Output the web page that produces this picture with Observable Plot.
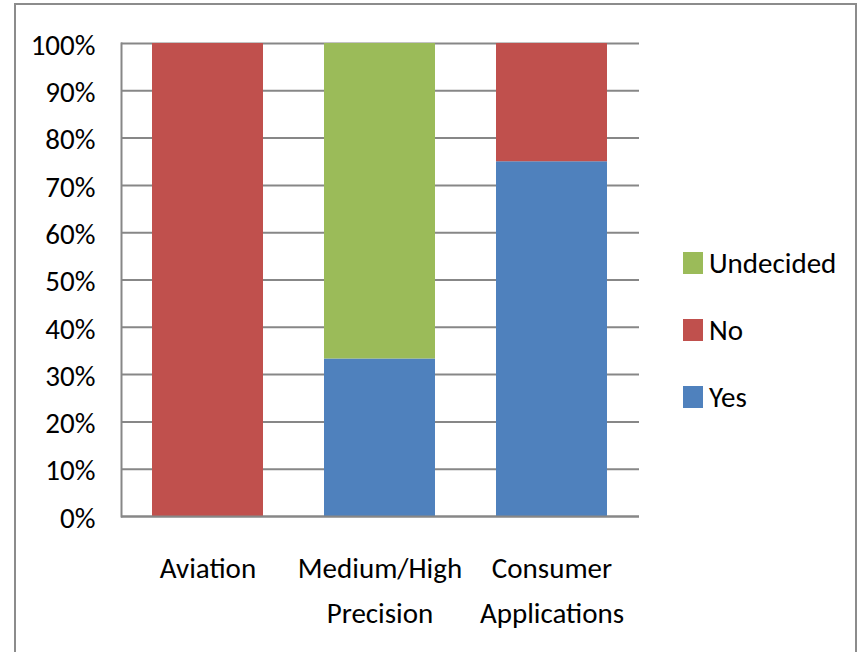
<!DOCTYPE html>
<html>
<head>
<meta charset="utf-8">
<script src="https://cdn.jsdelivr.net/npm/d3@7"></script>
<script src="https://cdn.jsdelivr.net/npm/@observablehq/plot@0.6"></script>
<style>
  html, body { margin: 0; padding: 0; background: #fff; }
  #wrap { position: relative; width: 862px; height: 652px; overflow: hidden; }
  #border { position: absolute; left: 14px; top: 3px; width: 843px; height: 700px; border: 2px solid #8c8c8c; box-sizing: border-box; }
  #chart { position: absolute; left: 0; top: 0; }
  .legend { position: absolute; left: 683px; font-family: Carlito, "DejaVu Sans Condensed", sans-serif; font-size: 29px; color: #000; }
  .legend .item { position: absolute; left: 0; white-space: nowrap; display: flex; align-items: center; }
  .legend .sw { width: 20px; height: 22px; margin-right: 6px; }
</style>
</head>
<body>
<div id="wrap">
  <div id="border"></div>
  <div id="chart"></div>
  <div class="legend" id="legend"></div>
</div>
<script>
const categories = ["Aviation", "Medium/High Precision", "Consumer Applications"];
const categoryLabels = ["Aviation", "Medium/High\nPrecision", "Consumer\nApplications"];
const seriesNames = ["Yes", "No", "Undecided"];
const yesValues = [0, 33.3, 75];
const noValues = [100, 0, 25];
const undecidedValues = [0, 66.7, 0];
const seriesColors = ["#4F81BD", "#C0504D", "#9BBB59"];
const yTicks = [0, 0.1, 0.2, 0.3, 0.4, 0.5, 0.6, 0.7, 0.8, 0.9, 1.0];
const legendOrder = ["Undecided", "No", "Yes"];

const valuesBySeries = { Yes: yesValues, No: noValues, Undecided: undecidedValues };
const data = [];
categories.forEach((c, i) => {
  seriesNames.forEach(s => data.push({ category: c, series: s, value: valuesBySeries[s][i] / 100 }));
});
const labelOf = new Map(categories.map((c, i) => [c, categoryLabels[i]]));

const font = 'Carlito, "DejaVu Sans Condensed", sans-serif';

const chart = Plot.plot({
  width: 862,
  height: 652,
  marginLeft: 121,
  marginRight: 223,
  marginTop: 43,
  marginBottom: 136,
  style: { fontFamily: font, fontSize: "29px", color: "#000", background: "transparent", overflow: "visible" },
  x: { domain: categories, paddingInner: 0.353, paddingOuter: 0.176, label: null },
  y: { domain: [0, 1], label: null },
  color: { domain: seriesNames, range: seriesColors },
  marks: [
    Plot.gridY(yTicks, { stroke: "#878787", strokeOpacity: 1, strokeWidth: 2 }),
    Plot.barY(data, Plot.stackY({ order: seriesNames }, { x: "category", y: "value", fill: "series" })),
    Plot.frame({ anchor: "left", stroke: "#878787", strokeWidth: 2 }),
    Plot.ruleY([0], { stroke: "#878787", strokeWidth: 2 }),
    Plot.axisY(yTicks, { tickSize: 0, tickPadding: 26, tickFormat: d => Math.round(d * 100) + "%", fontSize: 29, dy: 2, label: null }),
    Plot.axisX({ tickSize: 0, tickPadding: 30, tickFormat: d => labelOf.get(d), lineHeight: 1.55, fontSize: 29, label: null })
  ]
});
document.getElementById("chart").appendChild(chart);

const legend = document.getElementById("legend");
const legendTops = [252, 319, 386];
legendOrder.forEach((name, i) => {
  const item = document.createElement("div");
  item.className = "item";
  item.style.top = legendTops[i] + "px";
  const sw = document.createElement("div");
  sw.className = "sw";
  sw.style.background = seriesColors[seriesNames.indexOf(name)];
  const tx = document.createElement("span");
  tx.textContent = name;
  tx.style.lineHeight = "22px";
  item.appendChild(sw);
  item.appendChild(tx);
  legend.appendChild(item);
});
</script>
</body>
</html>
